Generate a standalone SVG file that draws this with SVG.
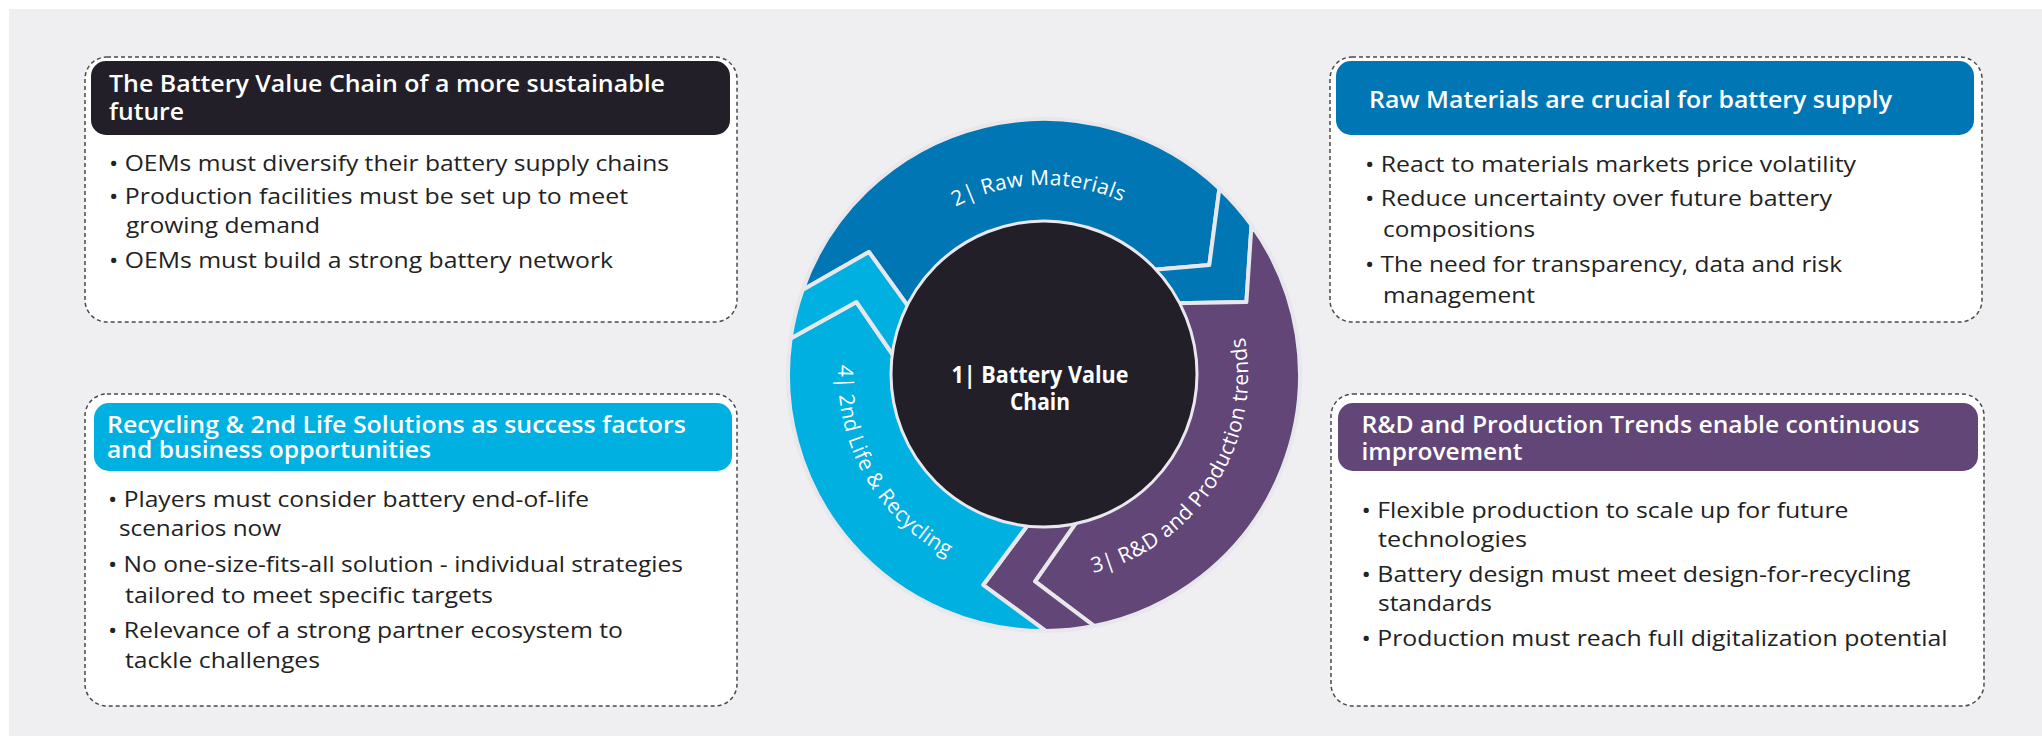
<svg xmlns="http://www.w3.org/2000/svg" width="2042" height="736" viewBox="0 0 2042 736">
<style>
.box{fill:#ffffff;stroke:#4a4a4a;stroke-width:1.5;stroke-dasharray:4 3}
.hd{font-family:"Open Sans","Noto Sans",sans-serif;font-weight:600;font-size:23px;fill:#ffffff}
.bt{font-family:"Open Sans","Noto Sans",sans-serif;font-weight:400;font-size:22px;fill:#222222}
.seg{stroke:#e7e7ec;stroke-width:4;stroke-linejoin:round}
.rl{font-family:"Open Sans","Noto Sans",sans-serif;font-weight:400;font-size:21px;fill:#ffffff;letter-spacing:0.4px}
.ct{font-family:"Open Sans","Noto Sans",sans-serif;font-weight:700;font-size:23px;fill:#ffffff}
</style>
<defs>
<path id="arc2" d="M 876.7,284.9 A 190 190 0 0 1 1205.7,275.2"/>
<path id="arc3" d="M 999.5,574.1 A 204 204 0 0 0 1206.1,251.1"/>
<path id="arc4" d="M 887.1,241.5 A 206 206 0 0 0 1078.4,578.1"/>
</defs>
<rect x="9" y="9" width="2033" height="727" fill="#efeff1"/>

<g id="connectors"></g>

<g id="box-value-chain">
<rect class="box" x="85" y="57" width="652" height="265" rx="22"/>
<rect x="91" y="61" width="639" height="74" rx="15" fill="#221f29"/>
<text class="hd" x="109" y="92" textLength="556" lengthAdjust="spacingAndGlyphs">The Battery Value Chain of a more sustainable</text>
<text class="hd" x="109" y="120" textLength="75" lengthAdjust="spacingAndGlyphs">future</text>
<text class="bt" x="109" y="171" textLength="560" lengthAdjust="spacingAndGlyphs">• OEMs must diversify their battery supply chains</text>
<text class="bt" x="109" y="204" textLength="519" lengthAdjust="spacingAndGlyphs">• Production facilities must be set up to meet</text>
<text class="bt" x="126" y="233" textLength="194" lengthAdjust="spacingAndGlyphs">growing demand</text>
<text class="bt" x="109" y="268" textLength="504" lengthAdjust="spacingAndGlyphs">• OEMs must build a strong battery network</text>
</g>

<g id="box-recycling">
<rect class="box" x="85" y="394" width="652" height="312" rx="22"/>
<rect x="94" y="403" width="638" height="68" rx="15" fill="#00b0e1"/>
<text class="hd" x="107" y="433" textLength="579" lengthAdjust="spacingAndGlyphs">Recycling &amp; 2nd Life Solutions as success factors</text>
<text class="hd" x="107" y="458" textLength="324" lengthAdjust="spacingAndGlyphs">and business opportunities</text>
<text class="bt" x="108" y="507" textLength="481" lengthAdjust="spacingAndGlyphs">• Players must consider battery end-of-life</text>
<text class="bt" x="119" y="536" textLength="162" lengthAdjust="spacingAndGlyphs">scenarios now</text>
<text class="bt" x="108" y="572" textLength="575" lengthAdjust="spacingAndGlyphs">• No one-size-fits-all solution - individual strategies</text>
<text class="bt" x="125" y="603" textLength="368" lengthAdjust="spacingAndGlyphs">tailored to meet specific targets</text>
<text class="bt" x="108" y="638" textLength="515" lengthAdjust="spacingAndGlyphs">• Relevance of a strong partner ecosystem to</text>
<text class="bt" x="125" y="668" textLength="195" lengthAdjust="spacingAndGlyphs">tackle challenges</text>
</g>

<g id="box-raw-materials">
<rect class="box" x="1330" y="57" width="652" height="265" rx="22"/>
<rect x="1336" y="61" width="638" height="74" rx="15" fill="#0076b4"/>
<text class="hd" x="1369" y="108" textLength="523" lengthAdjust="spacingAndGlyphs">Raw Materials are crucial for battery supply</text>
<text class="bt" x="1365" y="172" textLength="491" lengthAdjust="spacingAndGlyphs">• React to materials markets price volatility</text>
<text class="bt" x="1365" y="206" textLength="467" lengthAdjust="spacingAndGlyphs">• Reduce uncertainty over future battery</text>
<text class="bt" x="1383" y="237" textLength="152" lengthAdjust="spacingAndGlyphs">compositions</text>
<text class="bt" x="1365" y="272" textLength="477" lengthAdjust="spacingAndGlyphs">• The need for transparency, data and risk</text>
<text class="bt" x="1383" y="303" textLength="152" lengthAdjust="spacingAndGlyphs">management</text>
</g>

<g id="box-rnd">
<rect class="box" x="1331" y="394" width="653" height="312" rx="22"/>
<rect x="1338" y="403" width="640" height="68" rx="15" fill="#624677"/>
<text class="hd" x="1361.5" y="433" textLength="558" lengthAdjust="spacingAndGlyphs">R&amp;D and Production Trends enable continuous</text>
<text class="hd" x="1361.5" y="460" textLength="161" lengthAdjust="spacingAndGlyphs">improvement</text>
<text class="bt" x="1361.5" y="518" textLength="487" lengthAdjust="spacingAndGlyphs">• Flexible production to scale up for future</text>
<text class="bt" x="1378" y="547" textLength="149" lengthAdjust="spacingAndGlyphs">technologies</text>
<text class="bt" x="1361.5" y="582" textLength="549" lengthAdjust="spacingAndGlyphs">• Battery design must meet design-for-recycling</text>
<text class="bt" x="1378" y="611" textLength="114" lengthAdjust="spacingAndGlyphs">standards</text>
<text class="bt" x="1361.5" y="646" textLength="586" lengthAdjust="spacingAndGlyphs">• Production must reach full digitalization potential</text>
</g>

<g id="ring-raw-materials">
<path class="seg" fill="#0076b4" d="M 802.5,290.0 A 256 256 0 0 1 1219.4,188.5 L 1209.3,265 L 1151.2,270.0 A 150 150 0 0 0 909.6,308.3 L 868.9,252 Z"/>
<path class="seg" fill="#0076b4" d="M 1219.4,188.5 A 256 256 0 0 1 1251.5,225.1 L 1246.4,302 L 1175.7,303.2 A 150 150 0 0 0 1151.2,270.0 L 1209.3,265 Z"/>
<text class="rl"><textPath href="#arc2" startOffset="50%" text-anchor="middle">2| Raw Materials</textPath></text>
</g>
<g id="ring-rnd">
<path class="seg" fill="#624677" d="M 1251.5,225.1 A 256 256 0 0 1 1094.2,626.0 L 1035,581.3 L 1077.0,521.3 A 150 150 0 0 0 1175.7,303.2 L 1246.4,302 Z"/>
<path class="seg" fill="#624677" d="M 1094.2,626.0 A 256 256 0 0 1 1045.8,631.0 L 983.2,585 L 1028.3,524.2 A 150 150 0 0 0 1077.0,521.3 L 1035,581.3 Z"/>
<text class="rl"><textPath href="#arc3" startOffset="50%" text-anchor="middle">3| R&amp;D and Production trends</textPath></text>
</g>
<g id="ring-recycling">
<path class="seg" fill="#00b0e1" d="M 1045.8,631.0 A 256 256 0 0 1 790.6,338.5 L 856.4,302 L 895.0,358.0 A 150 150 0 0 0 1028.3,524.2 L 983.2,585 Z"/>
<path class="seg" fill="#00b0e1" d="M 790.6,338.5 A 256 256 0 0 1 802.5,290.0 L 868.9,252 L 909.6,308.3 A 150 150 0 0 0 895.0,358.0 L 856.4,302 Z"/>
<text class="rl"><textPath href="#arc4" startOffset="50%" text-anchor="middle">4| 2nd Life &amp; Recycling</textPath></text>
</g>

<g id="center">
<circle cx="1044" cy="374" r="153" fill="#221f29" stroke="#e8e8ee" stroke-width="3"/>
<text class="ct" x="1040" y="383" text-anchor="middle" textLength="177" lengthAdjust="spacingAndGlyphs">1| Battery Value</text>
<text class="ct" x="1040" y="410" text-anchor="middle" textLength="60" lengthAdjust="spacingAndGlyphs">Chain</text>
</g>
</svg>
